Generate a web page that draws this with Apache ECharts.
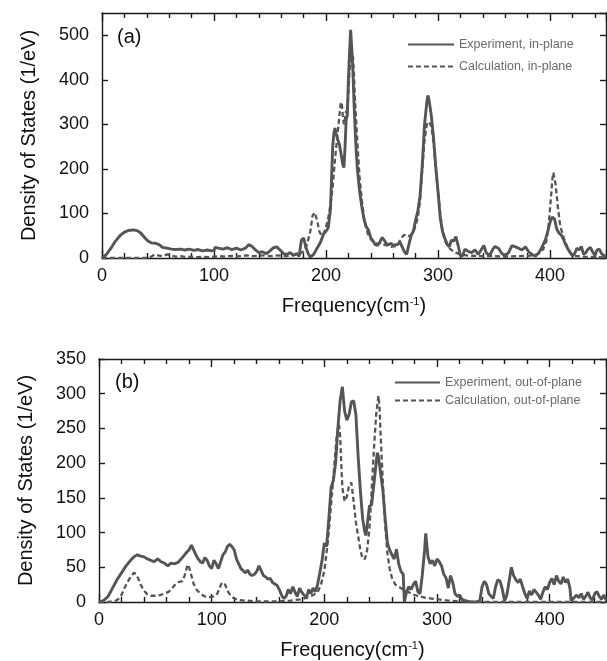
<!DOCTYPE html>
<html><head><meta charset="utf-8">
<script src="https://cdn.jsdelivr.net/npm/echarts@6/dist/echarts.min.js"></script>
<style>html,body{margin:0;padding:0;background:#fff}#c{width:607px;height:661px}</style>
</head><body><div id="c"></div>
<script>
// ---- Data: [frequency (cm^-1), density of states (1/eV)] ----
const expInPlane = [[0,0],[4,8],[8,22],[12,38],[16,50],[20,58],[24,62],[28,63],[32,61],[35,55],[38,46],[41,38],[44,34],[48,33],[51,30],[54,24],[58,22],[62,20],[66,19],[70,20],[74,18],[78,20],[82,17],[86,19],[90,16],[94,18],[98,16],[100,17],[101,24],[104,22],[108,20],[112,23],[116,19],[120,22],[124,18],[128,22],[131,30],[134,26],[137,18],[140,12],[143,14],[147,10],[150,16],[153,23],[156,25],[159,18],[162,10],[165,8],[168,12],[171,6],[174,10],[176,4],[178,40],[180,45],[182,25],[184,10],[186,2],[189,8],[192,22],[195,35],[198,55],[200,60],[202,68],[204,110],[205,180],[206,250],[207,280],[208,292],[209,280],[210,270],[211,262],[212,255],[213,240],[214,225],[215,210],[216,203],[217,250],[218,310],[219,320],[220,400],[221,460],[222,512],[223,470],[224,420],[225,350],[226,290],[227,240],[228,200],[230,150],[232,115],[234,86],[236,70],[238,62],[240,45],[242,38],[244,30],[246,28],[248,35],[250,46],[252,40],[254,32],[256,30],[258,33],[260,28],[262,30],[264,30],[266,36],[268,25],[270,14],[272,8],[274,30],[276,50],[278,60],[280,85],[282,105],[284,140],[286,210],[288,300],[290,350],[291,365],[292,355],[294,320],[296,270],[298,205],[300,150],[302,90],[304,60],[306,45],[308,32],[310,25],[312,40],[314,38],[316,48],[318,28],[320,5],[322,5],[324,20],[327,15],[330,12],[333,18],[336,8],[339,20],[341,28],[343,12],[346,5],[349,20],[351,26],[354,22],[357,10],[360,5],[363,12],[366,28],[369,25],[372,22],[375,18],[378,25],[381,14],[384,8],[387,4],[390,12],[393,25],[396,42],[398,60],[400,80],[402,92],[403,96],[404,88],[406,65],[408,56],[410,52],[412,42],[414,30],[416,20],[418,12],[420,5],[422,10],[424,22],[426,18],[428,26],[430,8],[432,12],[434,20],[436,24],[438,14],[440,6],[442,18],[444,20],[446,10],[448,6],[450,2]];

const calcInPlane = [[0,0],[10,0],[20,0],[30,0],[40,0],[44,3],[47,8],[50,6],[54,4],[58,8],[62,5],[66,3],[70,4],[75,2],[80,3],[85,2],[90,3],[95,2],[100,3],[105,4],[110,3],[115,5],[120,3],[125,5],[130,6],[135,4],[140,5],[145,6],[150,4],[155,6],[160,5],[165,4],[170,6],[174,8],[177,10],[180,15],[183,30],[186,60],[188,95],[190,102],[192,85],[194,60],[196,50],[198,55],[200,70],[202,90],[204,120],[206,160],[208,220],[210,270],[212,320],[213,345],[214,350],[215,320],[216,300],[217,315],[218,330],[219,325],[220,370],[221,420],[222,450],[223,465],[224,455],[225,410],[226,350],[228,260],[230,180],[232,130],[234,90],[236,65],[238,50],[240,42],[243,35],[246,32],[249,34],[252,30],[255,28],[258,25],[261,26],[264,28],[267,45],[270,52],[273,48],[276,52],[279,65],[282,90],[284,130],[286,200],[288,265],[290,300],[292,306],[294,296],[296,260],[298,200],[300,150],[302,100],[304,60],[306,40],[309,25],[312,18],[316,12],[320,8],[325,6],[330,5],[340,4],[350,4],[360,3],[370,4],[380,5],[385,6],[390,10],[394,20],[397,40],[399,80],[401,140],[402,175],[403,192],[404,188],[405,165],[407,115],[409,75],[411,55],[413,40],[416,22],[419,10],[422,5],[430,3],[440,2],[450,1]];

const expOutPlane = [[0,0],[4,2],[8,8],[12,20],[16,32],[20,42],[24,52],[28,60],[31,65],[34,68],[37,66],[40,65],[43,62],[46,60],[49,58],[52,62],[55,58],[58,56],[61,52],[64,56],[67,55],[70,57],[73,62],[76,68],[78,72],[80,75],[82,82],[84,75],[86,68],[88,62],[90,58],[92,56],[94,64],[96,60],[98,52],[100,48],[102,60],[104,55],[106,48],[108,58],[110,68],[112,72],[114,80],[116,83],[118,80],[120,75],[122,62],[124,55],[126,48],[128,45],[130,42],[132,46],[134,40],[136,38],[138,40],[140,44],[142,52],[144,45],[146,38],[148,36],[150,33],[152,34],[154,28],[156,26],[158,24],[160,18],[162,10],[164,5],[166,8],[168,18],[170,12],[172,22],[174,14],[176,8],[178,20],[180,14],[182,10],[184,5],[186,18],[188,12],[190,20],[192,15],[194,25],[196,42],[198,60],[200,85],[202,80],[204,120],[206,165],[208,175],[210,200],[212,250],[214,290],[215,300],[216,310],[218,275],[220,262],[222,270],[224,288],[226,290],[228,270],[230,210],[232,160],[234,120],[236,100],[237,96],[238,110],[240,138],[242,140],[244,170],[246,200],[247,215],[248,210],[250,185],[252,160],[254,120],[256,85],[258,75],[260,68],[262,62],[264,76],[266,55],[268,44],[270,40],[271,0],[273,15],[275,22],[277,18],[279,25],[281,30],[283,15],[285,12],[287,40],[289,75],[290,99],[292,65],[294,55],[296,60],[298,52],[300,62],[302,58],[304,52],[306,40],[308,35],[310,20],[312,38],[314,28],[316,12],[318,8],[320,10],[322,4],[325,2],[330,0],[335,0],[338,2],[340,22],[342,30],[344,25],[346,12],[348,8],[350,5],[352,22],[354,32],[356,30],[358,18],[360,2],[362,10],[364,30],[366,50],[368,38],[370,32],[372,28],[374,33],[376,22],[378,12],[380,5],[382,16],[384,10],[386,18],[388,14],[390,10],[392,4],[394,14],[396,22],[398,18],[400,28],[402,34],[404,25],[406,38],[408,30],[410,26],[412,36],[414,28],[416,33],[418,20],[419,2],[421,5],[424,10],[426,6],[428,12],[430,4],[432,8],[434,14],[436,6],[438,3],[440,12],[442,15],[444,8],[446,4],[448,10],[450,3]];

const calcOutPlane = [[0,0],[8,0],[14,1],[17,4],[20,10],[22,18],[25,28],[28,36],[31,42],[33,40],[35,33],[37,25],[40,16],[43,11],[46,9],[50,9],[54,10],[58,12],[62,15],[65,20],[68,26],[71,29],[74,30],[76,38],[78,50],[79,54],[80,50],[82,38],[84,26],[87,17],[90,12],[94,8],[98,7],[102,8],[105,12],[107,20],[109,28],[110,30],[112,25],[114,16],[117,9],[120,5],[124,3],[130,2],[140,1],[150,1],[160,1],[170,2],[180,4],[185,7],[190,10],[194,14],[197,25],[200,45],[203,85],[206,140],[209,200],[211,240],[213,255],[214,240],[215,200],[216,165],[218,145],[220,152],[222,168],[224,172],[226,145],[228,115],[230,95],[232,75],[234,62],[236,62],[238,75],[240,105],[242,160],[244,220],[246,270],[248,297],[249,280],[250,240],[252,170],[254,110],[256,70],[258,48],[260,35],[263,25],[266,22],[270,18],[275,14],[280,10],[285,8],[290,6],[295,5],[300,4],[310,2],[320,1],[330,0],[450,0]];

const seriesNames = ['Experiment, in-plane','Calculation, in-plane','Experiment, out-of-plane','Calculation, out-of-plane'];
const panelLabels = ['(a)','(b)'];
const xTitle = 'Frequency(cm{sup|-1})';
const yTitle = 'Density of States (1/eV)';

// ---- Styling ----
const FONT = '"Liberation Sans", Arial, Helvetica, sans-serif';
const INK = '#111';
const FRAME = '#1a1a1a';
const LINEC = '#555555';

function xAx(grid, pos, labels) {
  return {
    type:'value', gridIndex:grid, position:pos, min:0, max:450, interval:100,
    axisLine:{show:true, onZero:false, lineStyle:{color:FRAME, width:1.4}},
    axisTick:{show:true, inside:true, length:8, lineStyle:{color:FRAME, width:1.4}},
    minorTick:{show:true, splitNumber:5, length:5, lineStyle:{color:FRAME, width:1.4}},
    splitLine:{show:false}, minorSplitLine:{show:false},
    axisLabel:{show:labels, fontSize:18, color:INK, fontFamily:FONT, margin:9,
      showMaxLabel:false},
    name: labels ? xTitle : '', nameLocation:'middle', nameGap:38,
    nameTextStyle:{fontSize:20, color:INK, fontFamily:FONT,
      rich:{sup:{fontSize:11, color:INK, fontFamily:FONT, verticalAlign:'top', lineHeight:12}}}
  };
}
function yAx(grid, pos, labels, max, interval, showMax) {
  return {
    type:'value', gridIndex:grid, position:pos, min:0, max:max, interval:interval,
    axisLine:{show:true, onZero:false, lineStyle:{color:FRAME, width:1.4}},
    axisTick:{show:true, inside:true, length:6, lineStyle:{color:FRAME, width:1.4}},
    splitLine:{show:false},
    axisLabel:{show:labels, fontSize:18, color:INK, fontFamily:FONT, margin:13, showMaxLabel:showMax},
    name: labels ? yTitle : '', nameLocation:'middle', nameGap:63, nameRotate:90,
    nameTextStyle:{fontSize:20, color:INK, fontFamily:FONT}
  };
}
function line(name, data, xi, yi, dashed) {
  return {
    name:name, type:'line', xAxisIndex:xi, yAxisIndex:yi, data:data,
    symbol:'none', showSymbol:false, smooth:false, clip:true,
    lineStyle: dashed ? {color:LINEC, width:2.3, type:[5,3]} : {color:LINEC, width:2.9},
    itemStyle:{color:LINEC}, z: dashed ? 2 : 3
  };
}
const legendText = {fontSize:12.5, color:'#6a6a6a', fontFamily:FONT};
const legendIconStyle = {opacity:0, color:'rgba(0,0,0,0)', borderWidth:0};

const option = {
  animation:false,
  backgroundColor:'#fff',
  grid:[
    {left:102, top:13, width:504, height:245, containLabel:false},
    {left:99, top:359, width:507, height:245, containLabel:false}
  ],
  title:[
    {text:panelLabels[0], left:117, top:27, padding:0, textStyle:{fontSize:20, fontWeight:'normal', color:INK, fontFamily:FONT}},
    {text:panelLabels[1], left:115, top:372, padding:0, textStyle:{fontSize:20, fontWeight:'normal', color:INK, fontFamily:FONT}}
  ],
  legend:[
    {data:[seriesNames[0], seriesNames[1]], orient:'vertical', left:407, top:38, padding:0,
     itemWidth:46, itemHeight:14, itemGap:9, selectedMode:false, textStyle:legendText, itemStyle:legendIconStyle},
    {data:[seriesNames[2], seriesNames[3]], orient:'vertical', left:394, top:376, padding:0,
     itemWidth:45, itemHeight:14, itemGap:5, selectedMode:false, textStyle:legendText, itemStyle:legendIconStyle}
  ],
  xAxis:[ xAx(0,'bottom',true), xAx(0,'top',false), xAx(1,'bottom',true), xAx(1,'top',false) ],
  yAxis:[ yAx(0,'left',true,550,100,false), yAx(0,'right',false,550,100,false), yAx(1,'left',true,350,50,true), yAx(1,'right',false,350,50,true) ],
  series:[
    line(seriesNames[1], calcInPlane, 0, 0, true),
    line(seriesNames[0], expInPlane, 0, 0, false),
    line(seriesNames[3], calcOutPlane, 2, 2, true),
    line(seriesNames[2], expOutPlane, 2, 2, false)
  ]
};
const chart = echarts.init(document.getElementById('c'), null, {renderer:'canvas'});
chart.setOption(option);
</script></body></html>
